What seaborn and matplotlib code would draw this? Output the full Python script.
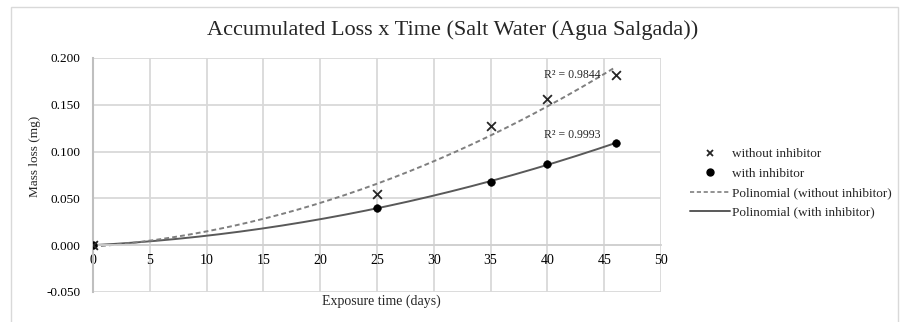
import matplotlib
matplotlib.use('Agg')
import matplotlib.pyplot as plt
from matplotlib.lines import Line2D
from matplotlib.patches import Rectangle
import numpy as np
import pandas as pd
import seaborn as sns

# data
days = [0, 25, 35, 40, 46]
loss_without = [0.000, 0.055, 0.127, 0.156, 0.182]
loss_with = [0.000, 0.040, 0.067, 0.087, 0.109]
r2_labels = ['R² = 0.9844', 'R² = 0.9993']
xticks = [0, 5, 10, 15, 20, 25, 30, 35, 40, 45, 50]
yticks = [-0.05, 0.0, 0.05, 0.10, 0.15, 0.20]

sns.set_style('whitegrid')
plt.rcParams['font.family'] = ['Liberation Serif', 'DejaVu Serif']

pts = pd.DataFrame({'days': days + days,
                    'loss': loss_without + loss_with,
                    'series': ['without inhibitor'] * 5 + ['with inhibitor'] * 5})

# 2nd order polynomial trendlines (as in the spreadsheet)
xs = np.linspace(0, 46, 200)
fit_wo = np.polyval(np.polyfit(days, loss_without, 2), xs)
fit_w = np.polyval(np.polyfit(days, loss_with, 2), xs)
fits = pd.DataFrame({'days': np.concatenate([xs, xs]),
                     'loss': np.concatenate([fit_wo, fit_w]),
                     'series': ['Polinomial (without inhibitor)'] * len(xs) + ['Polinomial (with inhibitor)'] * len(xs)})

fig = plt.figure(figsize=(9.01, 3.22), dpi=100)
ax = fig.add_axes([93/901, 1-292/322, 568/901, 234/322])

sns.lineplot(data=fits[fits.series == 'Polinomial (with inhibitor)'], x='days', y='loss',
             color='#595959', lw=1.4, ax=ax, legend=False)
sns.lineplot(data=fits[fits.series == 'Polinomial (without inhibitor)'], x='days', y='loss',
             color='#7f7f7f', lw=1.4, dashes=False, ax=ax, legend=False)
ax.lines[-1].set_dashes((2.5, 1.6))
sns.scatterplot(data=pts[pts.series == 'with inhibitor'], x='days', y='loss', marker='o',
                s=30, color='black', edgecolor='black', ax=ax, legend=False, zorder=5)
sns.scatterplot(data=pts[pts.series == 'without inhibitor'], x='days', y='loss', marker='x',
                s=40, color='#262626', linewidth=1.3, ax=ax, legend=False, zorder=5)

ax.set_xlim(0, 50)
ax.set_ylim(-0.05, 0.2)
ax.set_xticks(xticks)
ax.set_yticks(yticks)
ax.set_yticklabels(['%.3f' % v for v in yticks])
ax.grid(True, color='#d9d9d9', lw=1.3)
for s in ['top', 'right']:
    ax.spines[s].set_visible(False)
ax.spines['left'].set_color('#bfbfbf')
ax.spines['left'].set_linewidth(1.5)
ax.spines['bottom'].set_position(('data', 0))
ax.spines['bottom'].set_color('#d0d0d0')
ax.spines['bottom'].set_linewidth(1.3)
ax.tick_params(axis='both', length=0, colors='black')
ax.tick_params(axis='y', pad=9, labelsize=9.5)
ax.tick_params(axis='x', pad=6, labelsize=10)

ax.set_xlabel('Exposure time (days)', fontsize=10)
ax.set_ylabel('Mass loss (mg)', fontsize=9.5)
ax.xaxis.set_label_coords(0.507, -0.01)
ax.yaxis.set_label_coords(-0.092, 0.58)

ax.text(42.2, 0.1815, r2_labels[0], fontsize=8.5, ha='center', va='center')
ax.text(42.2, 0.1175, r2_labels[1], fontsize=8.5, ha='center', va='center')

fig.text(453/901, 1-30/322, 'Accumulated Loss x Time (Salt Water (Agua Salgada))',
         fontsize=16, ha='center', va='center')

handles = [Line2D([], [], ls='none', marker='x', color='#262626', ms=5, mew=1.3),
           Line2D([], [], ls='none', marker='o', color='black', ms=5),
           Line2D([], [], color='#7f7f7f', lw=1.2, dashes=(2.5, 1.6)),
           Line2D([], [], color='#595959', lw=1.4)]
labels = ['without inhibitor', 'with inhibitor', 'Polinomial (without inhibitor)', 'Polinomial (with inhibitor)']
fig.legend(handles, labels, loc='upper left', bbox_to_anchor=(690/901, 1-148/322),
           frameon=False, fontsize=9.5, handlelength=3.0, handletextpad=0.2,
           borderpad=0, borderaxespad=0, labelspacing=0.55)

fig.patches.append(Rectangle((11/901, -0.1), 887/901, 1.1 - 7/322, transform=fig.transFigure,
                             fill=False, edgecolor='#d9d9d9', lw=1))

fig.savefig('out.png', dpi=100)
